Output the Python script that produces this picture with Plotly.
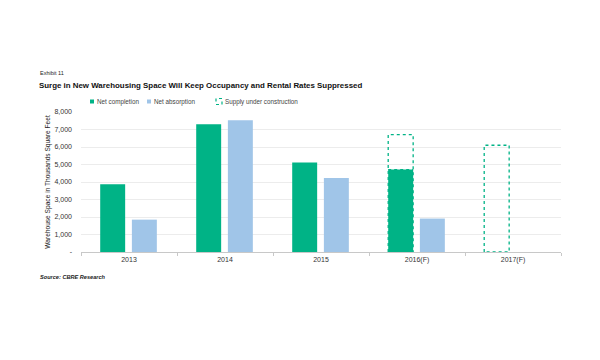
import plotly.graph_objects as go

categories = ["2013", "2014", "2015", "2016(F)", "2017(F)"]
net_completion = [3870, 7300, 5110, 4710, None]
net_absorption = [1850, 7530, 4230, 1910, None]
# stacked on top of net completion
supply_under_construction = [None, None, None, 2000, 6100]
y_ticks = [0, 1000, 2000, 3000, 4000, 5000, 6000, 7000, 8000]
y_tick_labels = ["-"] + [f"{v:,}" for v in y_ticks[1:]]
series_names = ["Net completion", "Net absorption", "Supply under construction"]

GREEN = "#00b386"
BLUE = "#a0c5e8"
FONT = "Liberation Sans, Arial, sans-serif"

idx = list(range(len(categories)))
W = 0.26
OFF_L = -0.30
OFF_R = 0.03

# page offset: browser default body margin
OFS = 8
# target plot area in page pixels
PL, PR, PT, PB = 81, 561, 112, 252
FIG_W, FIG_H = 600, 360
L = PL - OFS
R = FIG_W - (PR - OFS)
T = PT - OFS
B = FIG_H - (PB - OFS)
PW, PH = PR - PL, PB - PT

def px_x(x):
    return (x - PL) / PW

def px_y(y):
    return 1 - (y - PT) / PH

fig = go.Figure()
fig.add_trace(go.Bar(
    x=idx, y=net_completion, name=series_names[0],
    offset=OFF_L, width=W, marker=dict(color=GREEN, line=dict(width=0)), showlegend=False,
))
fig.add_trace(go.Bar(
    x=idx, y=net_absorption, name=series_names[1],
    offset=OFF_R, width=W, marker=dict(color=BLUE, line=dict(width=0)), showlegend=False,
))

# dotted outline for supply under construction (stacked on completion), built from the data
xs, ys = [], []
for i, v, base in zip(idx, supply_under_construction, net_completion):
    if v is None:
        continue
    base = base or 0
    top = base + v
    x0, x1 = i + OFF_L, i + OFF_L + W
    xs += [x0, x0, x1, x1, x0, None]
    ys += [0, top, top, 0, 0, None]
    if base:
        xs += [x0, x1, None]
        ys += [base, base, None]
fig.add_trace(go.Scatter(
    x=xs, y=ys, mode="lines", name=series_names[2],
    line=dict(color=GREEN, width=1.3, dash="dot"),
    showlegend=False, hoverinfo="skip",
))

fig.update_layout(
    width=FIG_W, height=FIG_H,
    margin=dict(l=L, r=R, t=T, b=B, autoexpand=False),
    paper_bgcolor="white", plot_bgcolor="white",
    barmode="overlay",
    font=dict(family=FONT, size=7, color="#333"),
    showlegend=False,
    xaxis=dict(
        range=[-0.5, 4.5], tickvals=idx, ticktext=categories, automargin=False,
        showgrid=False, zeroline=False, showline=True, linecolor="#c8c8c8", linewidth=1,
        ticks="", tickfont=dict(size=7, color="#333"), ticklabelstandoff=1,
        minor=dict(tick0=-0.5, dtick=1, ticks="outside", ticklen=3, tickcolor="#c8c8c8", showgrid=False),
    ),
    yaxis=dict(
        range=[0, 8000], tickvals=y_ticks, ticktext=y_tick_labels, automargin=False,
        showgrid=True, gridcolor="#ececec", gridwidth=1, zeroline=False,
        showline=False, ticks="", tickfont=dict(size=7, color="#333"), ticklabelstandoff=8,
        title=dict(text="Warehouse Space in Thousands Square Feet", font=dict(size=6.6, color="#222"), standoff=3),
    ),
)

fig.add_annotation(text="Exhibit 11", xref="paper", yref="paper", x=px_x(39), y=px_y(73),
                   xanchor="left", yanchor="middle", showarrow=False, borderpad=0,
                   font=dict(size=5.5, color="#222"))
fig.add_annotation(text="<b>Surge in New Warehousing Space Will Keep Occupancy and Rental Rates Suppressed</b>",
                   xref="paper", yref="paper", x=px_x(38), y=px_y(85), borderpad=0,
                   xanchor="left", yanchor="middle", showarrow=False, font=dict(size=7.9, color="#111"))
fig.add_annotation(text="<b><i>Source: CBRE Research</i></b>", xref="paper", yref="paper", x=px_x(39), y=px_y(277),
                   xanchor="left", yanchor="middle", showarrow=False, borderpad=0,
                   font=dict(size=5.6, color="#222"))

# legend
legend_icon_x = [92, 149, 219]
legend_text_x = [96, 153, 224]
legend_y = 101.5
for k, name in enumerate(series_names):
    if k < 2:
        fig.add_shape(type="rect", xref="paper", yref="paper", xsizemode="pixel", ysizemode="pixel",
                      xanchor=px_x(legend_icon_x[k]), yanchor=px_y(legend_y),
                      x0=-2, x1=2, y0=-2, y1=2, line=dict(width=0),
                      fillcolor=GREEN if k == 0 else BLUE)
    else:
        fig.add_shape(type="rect", xref="paper", yref="paper", xsizemode="pixel", ysizemode="pixel",
                      xanchor=px_x(legend_icon_x[k]), yanchor=px_y(legend_y),
                      x0=-3, x1=3, y0=-3, y1=3, line=dict(width=1.2, color=GREEN, dash="dot"),
                      fillcolor="rgba(0,0,0,0)")
    fig.add_annotation(text=name, xref="paper", yref="paper", x=px_x(legend_text_x[k]), y=px_y(legend_y),
                       xanchor="left", yanchor="middle", showarrow=False, borderpad=0,
                       font=dict(size=6.3, color="#444"))

fig.write_html("out.html")
